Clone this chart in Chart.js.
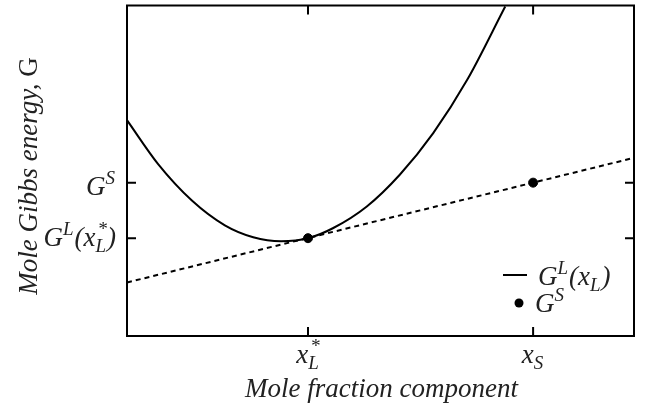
<!DOCTYPE html>
<html>
<head>
<meta charset="utf-8">
<script src="https://cdn.jsdelivr.net/npm/chart.js@4"></script>
<style>
  body { margin: 0; background: #fff; }
  canvas { display: block; }
</style>
</head>
<body>
<canvas id="gibbs" width="646" height="407"></canvas>
<script>
// Liquid free-energy curve G^L(x_L)
const curveX = [0.000, 0.061, 0.128, 0.193, 0.249, 0.304, 0.357, 0.406, 0.473, 0.538, 0.604, 0.671, 0.746];
const curveY = [0.653, 0.521, 0.410, 0.335, 0.299, 0.287, 0.296, 0.326, 0.392, 0.488, 0.614, 0.775, 0.997];

// Common tangent through the two marked states
const tangentX = [0, 1];
const tangentY = [0.162, 0.539];

// Marked states: tangent point on the liquid curve and the solid G^S
const stateX = [0.357, 0.801];
const stateY = [0.296, 0.464];

// Tick positions
const xTicks = [0.357, 0.801];
const yTicks = [0.296, 0.464];

const BIG = 'italic 27px "Liberation Serif"';
const BIG_UP = '27px "Liberation Serif"';
const SMALL = 'italic 19px "Liberation Serif"';

// text with sub/superscripts: strings are normal, objects carry sub and/or sup
function partWidth(ctx, p) {
  if (typeof p === 'string') { ctx.font = BIG; return ctx.measureText(p).width; }
  ctx.font = SMALL;
  const a = p.sub ? ctx.measureText(p.sub).width : 0;
  const b = p.sup ? ctx.measureText(p.sup).width : 0;
  return Math.max(a, b) + 1;
}

function drawRich(ctx, parts, x, y, align) {
  let w = 0;
  parts.forEach(p => { w += partWidth(ctx, p); });
  let cx = align === 'right' ? x - w : align === 'center' ? x - w / 2 : x;
  ctx.textAlign = 'left';
  ctx.textBaseline = 'alphabetic';
  parts.forEach(p => {
    const pw = partWidth(ctx, p);
    if (typeof p === 'string') {
      ctx.font = BIG;
      ctx.fillText(p, cx, y);
    } else {
      ctx.font = SMALL;
      if (p.sup) ctx.fillText(p.sup, cx + (p.sub ? 2 : 0), y - 11);
      if (p.sub) ctx.fillText(p.sub, cx, y + 6);
    }
    cx += pw;
  });
}

const xTickLabels = [
  ['x', { sub: 'L', sup: '*' }],
  ['x', { sub: 'S' }]
];
const yTickLabels = [
  ['G', { sup: 'L' }, '(x', { sub: 'L', sup: '*' }, ')'],
  ['G', { sup: 'S' }]
];

const framePlugin = {
  id: 'frame',
  afterDraw(chart) {
    const ctx = chart.ctx;
    const a = chart.chartArea;
    const xs = chart.scales.x, ys = chart.scales.y;
    ctx.save();
    ctx.fillStyle = '#000';
    ctx.strokeStyle = '#000';
    ctx.lineWidth = 2;
    ctx.strokeRect(a.left, a.top, a.right - a.left, a.bottom - a.top);

    // inward ticks on all four sides
    const tl = 9;
    ctx.beginPath();
    xTicks.forEach(v => {
      const px = xs.getPixelForValue(v);
      ctx.moveTo(px, a.bottom); ctx.lineTo(px, a.bottom - tl);
      ctx.moveTo(px, a.top); ctx.lineTo(px, a.top + tl);
    });
    yTicks.forEach(v => {
      const py = ys.getPixelForValue(v);
      ctx.moveTo(a.left, py); ctx.lineTo(a.left + tl, py);
      ctx.moveTo(a.right, py); ctx.lineTo(a.right - tl, py);
    });
    ctx.stroke();

    // tick labels
    ctx.fillStyle = '#222';
    xTicks.forEach((v, i) => {
      drawRich(ctx, xTickLabels[i], xs.getPixelForValue(v), a.bottom + 27, 'center');
    });
    const yOff = [8, 12];
    yTicks.forEach((v, i) => {
      drawRich(ctx, yTickLabels[i], a.left - 11, ys.getPixelForValue(v) + yOff[i], 'right');
    });

    // axis titles
    ctx.font = BIG;
    ctx.textAlign = 'center';
    ctx.fillText('Mole fraction component', (a.left + a.right) / 2 + 1, 397);

    ctx.save();
    ctx.translate(37, 176);
    ctx.rotate(-Math.PI / 2);
    ctx.font = BIG;
    const t1 = 'Mole Gibbs energy, ';
    const w1 = ctx.measureText(t1).width;
    ctx.font = BIG_UP;
    const w2 = ctx.measureText('G').width;
    ctx.textAlign = 'left';
    ctx.font = BIG;
    ctx.fillText(t1, -(w1 + w2) / 2, 0);
    ctx.font = BIG_UP;
    ctx.fillText('G', -(w1 + w2) / 2 + w1, 0);
    ctx.restore();

    // legend
    const lx = a.right - 131;
    ctx.strokeStyle = '#000';
    ctx.lineWidth = 2;
    ctx.beginPath();
    ctx.moveTo(lx, 275); ctx.lineTo(lx + 24, 275);
    ctx.stroke();
    drawRich(ctx, ['G', { sup: 'L' }, '(x', { sub: 'L' }, ')'], lx + 35, 285, 'left');
    ctx.fillStyle = '#000';
    ctx.beginPath();
    ctx.arc(lx + 16, 303, 4.5, 0, Math.PI * 2);
    ctx.fill();
    ctx.fillStyle = '#222';
    drawRich(ctx, ['G', { sup: 'S' }], lx + 32, 312, 'left');
    ctx.restore();
  }
};

const ctx = document.getElementById('gibbs').getContext('2d');
new Chart(ctx, {
  type: 'scatter',
  data: {
    datasets: [
      {
        data: curveX.map((x, i) => ({ x: x, y: curveY[i] })),
        showLine: true,
        borderColor: '#000',
        borderWidth: 2,
        pointRadius: 0,
        cubicInterpolationMode: 'monotone'
      },
      {
        data: tangentX.map((x, i) => ({ x: x, y: tangentY[i] })),
        showLine: true,
        borderColor: '#000',
        borderWidth: 2,
        borderDash: [5, 4],
        pointRadius: 0
      },
      {
        data: stateX.map((x, i) => ({ x: x, y: stateY[i] })),
        showLine: false,
        backgroundColor: '#000',
        borderColor: '#000',
        pointRadius: 4.5
      }
    ]
  },
  options: {
    responsive: false,
    animation: false,
    layout: { padding: { top: 2, right: 12, left: 0, bottom: 0 } },
    plugins: { legend: { display: false }, tooltip: { enabled: false } },
    scales: {
      x: {
        min: 0, max: 1,
        ticks: { display: false },
        grid: { display: false },
        border: { display: false },
        afterFit(s) { s.height = 71; }
      },
      y: {
        min: 0, max: 1,
        ticks: { display: false },
        grid: { display: false },
        border: { display: false },
        afterFit(s) { s.width = 127; }
      }
    }
  },
  plugins: [framePlugin]
});
</script>
</body>
</html>
